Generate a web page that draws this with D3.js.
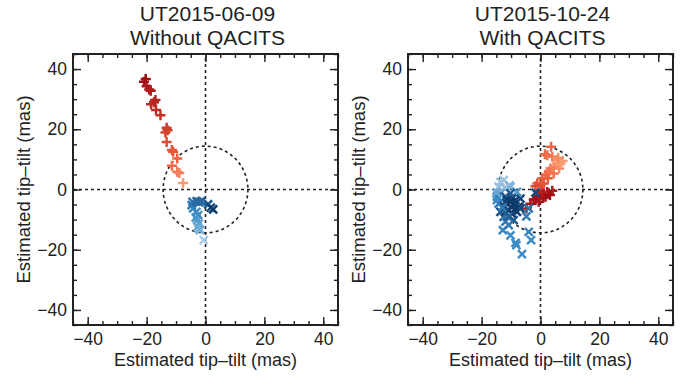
<!DOCTYPE html>
<html>
<head>
<meta charset="utf-8">
<script src="https://cdn.jsdelivr.net/npm/d3@7"></script>
<style>
  body { margin: 0; background: #fff; }
  svg { display: block; font-family: "Liberation Sans", Arial, Helvetica, sans-serif; }
</style>
</head>
<body>
<div id="chart"></div>
<script>
// --- data: [x, y, shade] with shade 0 = light .. 1 = dark
const june09Plus = [
  [-20.3, 36.7, 1.0], [-20.9, 35.8, 1.0], [-20.0, 34.3, 0.95], [-19.1, 33.2, 0.92],
  [-18.6, 32.8, 0.9], [-17.0, 29.7, 0.85], [-17.5, 29.0, 0.85], [-18.5, 28.3, 0.82],
  [-16.8, 26.4, 0.8], [-15.3, 24.7, 0.78], [-13.2, 20.5, 0.7], [-12.9, 19.7, 0.68],
  [-13.6, 18.9, 0.66], [-13.2, 15.8, 0.6], [-11.4, 13.1, 0.55], [-11.0, 12.5, 0.52],
  [-9.6, 10.3, 0.45], [-11.4, 7.9, 0.4], [-9.6, 5.9, 0.3], [-8.9, 5.5, 0.28],
  [-7.6, 2.2, 0.1]
];
const june09Cross = [
  [-0.6, -16.8, 0.0], [-1.9, -13.5, 0.2], [-2.1, -13.1, 0.2], [-2.7, -12.4, 0.25],
  [-2.3, -11.3, 0.3], [-2.8, -10.2, 0.35], [-3.3, -9.3, 0.4], [-2.5, -8.5, 0.45],
  [-3.1, -7.4, 0.5], [-4.2, -6.3, 0.55], [-4.7, -5.2, 0.6], [-4.4, -4.1, 0.65],
  [-3.0, -3.9, 0.7], [-2.2, -4.3, 0.7], [-1.4, -3.9, 0.72], [0.9, -4.9, 0.8],
  [1.8, -6.0, 0.9], [2.6, -6.6, 1.0]
];
const oct24Plus = [
  [-4.8, -6.3, 0.9], [-3.4, -4.7, 0.95], [-2.3, -3.3, 1], [-1.7, -3.5, 1], [-1.1, -2.4, 1],
  [0, -1.9, 1], [0.9, -2.7, 1], [-0.6, -4.1, 0.95], [1.7, -2.4, 1], [1.1, -1.3, 0.95],
  [2.8, -1.3, 0.95], [2.3, -0.8, 0.9], [4, -0.4, 0.9], [3.2, -1.8, 1], [0.5, -0.8, 0.9],
  [-1.7, 1.1, 0.6], [-1.1, 2, 0.55], [0, 1.4, 0.6], [1.1, 2, 0.55], [0.6, 3.7, 0.5],
  [2.5, 3.7, 0.5], [1.7, 4.8, 0.45], [4.5, 5.3, 0.35], [2.8, 5.9, 0.4], [3.4, 7, 0.35],
  [6.3, 7, 0.2], [4.5, 7.5, 0.25], [5.7, 8.1, 0.15], [6.8, 8.6, 0.1], [5.5, 9.7, 0.15],
  [4, 10.9, 0.3], [2.3, 11.4, 0.35], [1.5, 11.7, 0.4], [3.6, 14.2, 0.45], [7.5, 9.5, 0.1],
  [6, 10.5, 0.2]
];
const oct24Cross = [
  [-13.6, 2.5, 0.05], [-12.5, 3.1, 0.05], [-14.2, 0.9, 0.1], [-10.5, 1.4, 0.15],
  [-10.2, 0.9, 0.2], [-12, 0.5, 0.1], [-13.6, -1.3, 0.3], [-8, -0.8, 0.4],
  [-14.8, -2.4, 0.6], [-11.9, -2.4, 0.8], [-9.7, -3, 0.9], [-8.5, -3.5, 0.95],
  [-6.8, -3, 0.9], [-11.4, -4.7, 1], [-9.1, -5.2, 1], [-7.4, -5.8, 1], [-10.8, -6.9, 1],
  [-13.6, -7.4, 0.85], [-12.5, -9.1, 0.7], [-9.7, -8, 1], [-8, -7.4, 0.95],
  [-11.9, -10.7, 0.6], [-12.8, -13.5, 0.55], [-10.2, -15.2, 0.5], [-8.5, -17.7, 0.5],
  [-8.2, -18.5, 0.5], [-6.3, -21.5, 0.5], [-4, -14.1, 0.55], [-3.2, -16.8, 0.5],
  [-4.8, -8.9, 0.6], [-4, -6.3, 0.65], [-1.7, -1, 0.9], [-14.2, -4.7, 0.6],
  [-10.2, -1.3, 0.8], [-11.4, -3.5, 0.95], [-14.8, -3.5, 0.5], [-9.1, -10.2, 0.8],
  [-10.8, -11.8, 0.6], [-6.8, -6.3, 0.9], [-12.5, -5.5, 0.9], [-10, -4, 1],
  [-8.8, -6.5, 1], [-12, -7.5, 0.9], [-13, -6, 0.6], [-15, -1, 0.3], [-11, -9, 0.75]
];
const titles = [["UT2015-06-09", "Without QACITS"], ["UT2015-10-24", "With QACITS"]];
const majorTicks = [-40, -20, 0, 20, 40];
const minorTicks = d3.range(-45, 46, 5);
const circleRadius = 14.4; // mas
const axisLabel = "Estimated tip\u2013tilt (mas)";

// --- layout
const width = 691, height = 380;
const frameTop = 54, frameBottom = 325, frameW = 265;
const frameLefts = [73, 408];

const redShade = d3.scaleLinear().domain([0, 0.5, 1]).range(["#fcab80", "#ee5b3b", "#a10d15"]);
const blueShade = d3.scaleLinear().domain([0, 0.5, 1]).range(["#a9cbe6", "#3d8cc6", "#0c386a"]);

const svg = d3.select("#chart").append("svg")
  .attr("width", width)
  .attr("height", height);

const panels = [
  {plus: june09Plus, cross: june09Cross, title: titles[0]},
  {plus: oct24Plus, cross: oct24Cross, title: titles[1]}
];

panels.forEach(function(p, i) {
  const x0 = frameLefts[i];
  const x = d3.scaleLinear().domain([-45, 45]).range([x0, x0 + frameW]);
  const y = d3.scaleLinear().domain([-45, 45]).range([frameBottom, frameTop]);
  const g = svg.append("g");

  // dotted zero lines and circle
  g.append("line")
    .attr("x1", x(-45)).attr("x2", x(45)).attr("y1", y(0)).attr("y2", y(0))
    .attr("stroke", "#222").attr("stroke-width", 1.6).attr("stroke-dasharray", "3,3");
  g.append("line")
    .attr("x1", x(0)).attr("x2", x(0)).attr("y1", y(-45)).attr("y2", y(45))
    .attr("stroke", "#222").attr("stroke-width", 1.6).attr("stroke-dasharray", "3,3");
  g.append("ellipse")
    .attr("cx", x(0)).attr("cy", y(0))
    .attr("rx", x(circleRadius) - x(0)).attr("ry", y(0) - y(circleRadius))
    .attr("fill", "none")
    .attr("stroke", "#222").attr("stroke-width", 1.6).attr("stroke-dasharray", "3,3");

  // markers
  g.selectAll("path.plus")
    .data(p.plus)
    .enter().append("path")
    .attr("class", "plus")
    .attr("d", function(d) {
      const cx = x(d[0]), cy = y(d[1]), s = 5;
      return "M" + (cx - s) + "," + cy + "H" + (cx + s) + "M" + cx + "," + (cy - s) + "V" + (cy + s);
    })
    .attr("stroke", function(d) { return redShade(d[2]); })
    .attr("stroke-width", 2.5)
    .attr("fill", "none");

  g.selectAll("path.cross")
    .data(p.cross)
    .enter().append("path")
    .attr("class", "cross")
    .attr("d", function(d) {
      const cx = x(d[0]), cy = y(d[1]), s = 4;
      return "M" + (cx - s) + "," + (cy - s) + "L" + (cx + s) + "," + (cy + s) +
             "M" + (cx - s) + "," + (cy + s) + "L" + (cx + s) + "," + (cy - s);
    })
    .attr("stroke", function(d) { return blueShade(d[2]); })
    .attr("stroke-width", 2.5)
    .attr("fill", "none");

  // ticks on all four sides, pointing in
  function ticks(axisFn, scale, pos, size, values, labels) {
    const a = axisFn(scale).tickValues(values).tickSize(size).tickPadding(6)
      .tickFormat(labels ? function(v) { return v < 0 ? "\u2212" + Math.abs(v) : v; } : "");
    const t = g.append("g").attr("transform", pos).call(a);
    t.select(".domain").remove();
    t.selectAll(".tick line").attr("stroke", "#222").attr("stroke-width", 1.4);
    t.selectAll("text").attr("font-size", 17.5).attr("fill", "#222")
      .attr("font-family", "'Liberation Sans', Arial, sans-serif");
    return t;
  }
  const bottom = "translate(0," + frameBottom + ")", top = "translate(0," + frameTop + ")";
  const left = "translate(" + x0 + ",0)", right = "translate(" + (x0 + frameW) + ",0)";
  ticks(d3.axisBottom, x, bottom, -4, minorTicks, false);
  ticks(d3.axisTop, x, top, -4, minorTicks, false);
  ticks(d3.axisLeft, y, left, -4, minorTicks, false);
  ticks(d3.axisRight, y, right, -4, minorTicks, false);
  const xb = ticks(d3.axisBottom, x, bottom, -8, majorTicks, true);
  xb.selectAll("text").attr("dy", null).attr("y", 20);
  ticks(d3.axisTop, x, top, -8, majorTicks, false);
  const yl = ticks(d3.axisLeft, y, left, -8, majorTicks, true);
  yl.selectAll("text").attr("x", -6);
  ticks(d3.axisRight, y, right, -8, majorTicks, false);

  // frame
  g.append("rect")
    .attr("x", x0).attr("y", frameTop)
    .attr("width", frameW).attr("height", frameBottom - frameTop)
    .attr("fill", "none").attr("stroke", "#222").attr("stroke-width", 2);

  // axis titles
  const cx = x0 + frameW / 2;
  g.append("text")
    .attr("x", cx).attr("y", 366)
    .attr("text-anchor", "middle").attr("font-size", 18).attr("fill", "#222")
    .text(axisLabel);
  g.append("text")
    .attr("transform", "translate(" + (x0 - 43) + "," + ((frameTop + frameBottom) / 2) + ") rotate(-90)")
    .attr("text-anchor", "middle").attr("font-size", 18.5).attr("fill", "#222")
    .text(axisLabel);

  // title
  g.selectAll("text.title")
    .data(p.title)
    .enter().append("text")
    .attr("class", "title")
    .attr("x", cx + 2)
    .attr("y", function(d, k) { return 21 + k * 24; })
    .attr("text-anchor", "middle").attr("font-size", 21).attr("fill", "#222")
    .text(function(d) { return d; });
});
</script>
</body>
</html>
